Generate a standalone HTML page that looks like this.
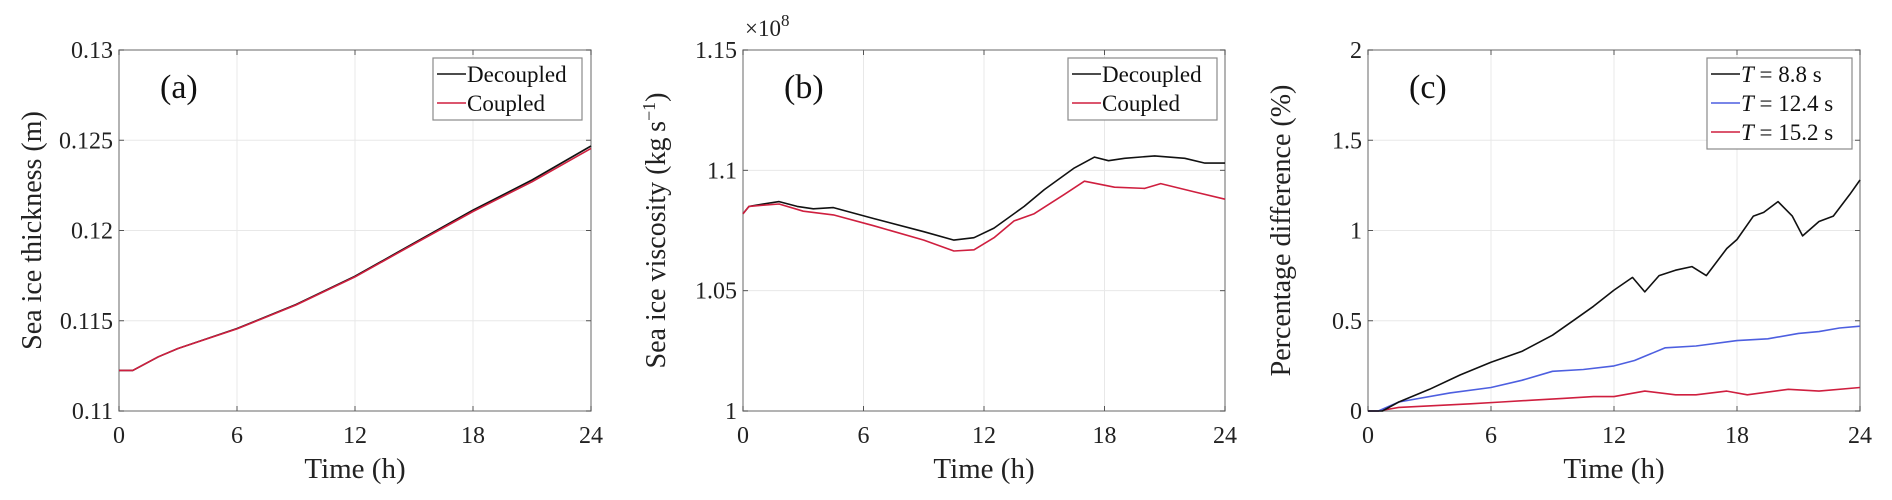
<!DOCTYPE html>
<html><head><meta charset="utf-8"><style>
body{margin:0;background:#fff;}
svg{display:block;font-family:"Liberation Serif",serif;}
</style></head><body>
<svg id="fig" width="1892" height="500" viewBox="0 0 1892 500"></svg>
<script>
// ---------- data ----------
const aTime=[0,0.7,2,3,6,9,12,15,18,21,24];
const aDecoupled=[0.11225,0.11225,0.1130,0.11346,0.11457,0.1159,0.11747,0.1193,0.12113,0.1228,0.12468];
const aCoupled=[0.11225,0.11225,0.1130,0.11346,0.11455,0.11587,0.11743,0.11925,0.12105,0.1227,0.12455];
const bTimeD=[0,0.3,1,1.8,2.7,3.5,4.5,6.5,9,10.5,11.5,12.5,14,15,16.5,17.5,18.2,19,20.5,22,23,24];
const bDecoupled=[1.082,1.085,1.086,1.087,1.085,1.084,1.0845,1.080,1.0745,1.071,1.072,1.076,1.085,1.092,1.101,1.1055,1.104,1.105,1.106,1.105,1.103,1.103];
const bTimeC=[0,0.3,1,1.8,3,4,4.5,6.5,9,10.5,11.5,12.5,13.5,14.5,16,17,18.5,20,20.8,22.5,24];
const bCoupled=[1.082,1.085,1.0855,1.086,1.083,1.082,1.0815,1.077,1.071,1.0665,1.067,1.072,1.079,1.082,1.090,1.0955,1.093,1.0925,1.0945,1.091,1.088];
const cTimeK=[0,0.7,1.5,3,4.5,6,7.5,9,10,11,12,12.9,13.5,14.2,15,15.8,16.5,17.5,18,18.8,19.3,20,20.7,21.2,22,22.7,23.5,24];
const cT88=[0,0,0.05,0.12,0.2,0.27,0.33,0.42,0.5,0.58,0.67,0.74,0.66,0.75,0.78,0.8,0.75,0.9,0.95,1.08,1.1,1.16,1.08,0.97,1.05,1.08,1.2,1.28];
const cTimeB=[0,0.5,1.5,4,6,7.5,9,10.5,12,13,14.5,16,18,19.5,21,22,23,24];
const cT124=[0,0,0.05,0.1,0.13,0.17,0.22,0.23,0.25,0.28,0.35,0.36,0.39,0.4,0.43,0.44,0.46,0.47];
const cTimeR=[0,0.5,1.5,5,6.5,8,9.5,11,12,13.5,15,16,17.5,18.5,20.5,22,24];
const cT152=[0,0,0.02,0.04,0.05,0.06,0.07,0.08,0.08,0.11,0.09,0.09,0.11,0.09,0.12,0.11,0.13];
const xTicks=[0,6,12,18,24];
const aYTicks=[0.11,0.115,0.12,0.125,0.13];
const aYLabels=["0.11","0.115","0.12","0.125","0.13"];
const bYTicks=[1,1.05,1.1,1.15];
const bYLabels=["1","1.05","1.1","1.15"];
const cYTicks=[0,0.5,1,1.5,2];
const cYLabels=["0","0.5","1","1.5","2"];

const NS="http://www.w3.org/2000/svg";
const svg=document.getElementById('fig');
function mk(tag,attrs,parent){const e=document.createElementNS(NS,tag);for(const k in attrs)e.setAttribute(k,attrs[k]);(parent||svg).appendChild(e);return e;}
const TOP=50,BOT=411;

function panel(id,L,R,ymin,ymax,yt,yl,ytitle,letter){
  const g=mk('g',{});
  
  
  const sx=t=>L+(t/24)*(R-L);
  const sy=v=>BOT-(v-ymin)/(ymax-ymin)*(BOT-TOP);
  xTicks.forEach(t=>{
    const gl=mk('line',{x1:sx(t),x2:sx(t),y1:TOP,y2:BOT,stroke:'#e8e8e8','stroke-width':1},g);
    
    
  });
  yt.forEach(v=>{
    const gl=mk('line',{x1:L,x2:R,y1:sy(v),y2:sy(v),stroke:'#e8e8e8','stroke-width':1},g);
    
    
  });
  const box=mk('rect',{x:L,y:TOP,width:R-L,height:BOT-TOP,fill:'none',stroke:'#8a8a8a','stroke-width':1.3},g);
  
  
  xTicks.forEach(t=>{
    mk('line',{x1:sx(t),x2:sx(t),y1:BOT,y2:BOT-5,stroke:'#555'},g);
    mk('line',{x1:sx(t),x2:sx(t),y1:TOP,y2:TOP+5,stroke:'#555'},g);
    const tx=mk('text',{x:sx(t),y:BOT+32,'font-size':24,'text-anchor':'middle',fill:'#222'},g);
    tx.textContent=t;
    
    
  });
  yt.forEach((v,i)=>{
    mk('line',{x1:L,x2:L+5,y1:sy(v),y2:sy(v),stroke:'#555'},g);
    mk('line',{x1:R,x2:R-5,y1:sy(v),y2:sy(v),stroke:'#555'},g);
    const tx=mk('text',{x:L-6,y:sy(v)+8,'font-size':24,'text-anchor':'end',fill:'#222'},g);
    tx.textContent=yl[i];
    
    
  });
  const xt=mk('text',{x:(L+R)/2,y:478,'font-size':29,'text-anchor':'middle',fill:'#222'},g);
  xt.textContent='Time (h)';
  
  
  const ytx=mk('text',{x:0,y:0,'font-size':28,'text-anchor':'middle',fill:'#222',transform:`translate(${L-78},${(TOP+BOT)/2}) rotate(-90)`},g);
  ytx.innerHTML=ytitle;
  
  
  const lt=mk('text',{x:L+41,y:98,'font-size':34,fill:'#111'},g);
  lt.textContent=letter;
  
  
  return {g,sx,sy};
}
function series(p,ts,vs,color,name){
  const d=ts.map((t,i)=>(i?'L':'M')+p.sx(t).toFixed(1)+','+p.sy(vs[i]).toFixed(1)).join(' ');
  const e=mk('path',{d:d,fill:'none',stroke:color,'stroke-width':1.6,'stroke-linejoin':'round'},p.g);
  
  
}
function legend(p,x,y,w,entries){
  const lg=mk('g',{},p.g);
  
  
  mk('rect',{x:x,y:y,width:w,height:entries.length*29+4,fill:'#fff',stroke:'#8a8a8a','stroke-width':1.2},lg);
  entries.forEach((en,i)=>{
    const cy=y+16+i*29;
    const ent=mk('g',{},lg);
    
    
    mk('line',{x1:x+4,x2:x+33,y1:cy,y2:cy,stroke:en[1],'stroke-width':1.5},ent);
    const t=mk('text',{x:x+34,y:cy+8,'font-size':23,fill:'#111'},ent);
    t.innerHTML=en[0];
  });
}
const K='#111',RED='#cf1f3f',BLUE='#4d5fe0';
const pa=panel('a',119,591,0.11,0.13,aYTicks,aYLabels,'Sea ice thickness (m)','(a)');
series(pa,aTime,aDecoupled,K,'series-decoupled');
series(pa,aTime,aCoupled,RED,'series-coupled');
legend(pa,433,58,149,[['Decoupled',K],['Coupled',RED]]);

const pb=panel('b',743,1225,1,1.15,bYTicks,bYLabels,'Sea ice viscosity (kg\u2009s<tspan dy="-10" font-size="18">\u22121</tspan><tspan dy="10">)</tspan>','(b)');
series(pb,bTimeD,bDecoupled,K,'series-decoupled');
series(pb,bTimeC,bCoupled,RED,'series-coupled');
legend(pb,1068,58,149,[['Decoupled',K],['Coupled',RED]]);
const ex=mk('text',{x:745,y:36,'font-size':23,fill:'#222'});
ex.innerHTML='\u00d710<tspan dy="-10" font-size="17">8</tspan>';



const pc=panel('c',1368,1860,0,2,cYTicks,cYLabels,'Percentage difference (%)','(c)');
series(pc,cTimeR,cT152,RED,'series-T15.2');
series(pc,cTimeB,cT124,BLUE,'series-T12.4');
series(pc,cTimeK,cT88,K,'series-T8.8');
legend(pc,1707,58,145,[['<tspan font-style="italic">T</tspan> = 8.8 s',K],['<tspan font-style="italic">T</tspan> = 12.4 s',BLUE],['<tspan font-style="italic">T</tspan> = 15.2 s',RED]]);
</script>
</body></html>
